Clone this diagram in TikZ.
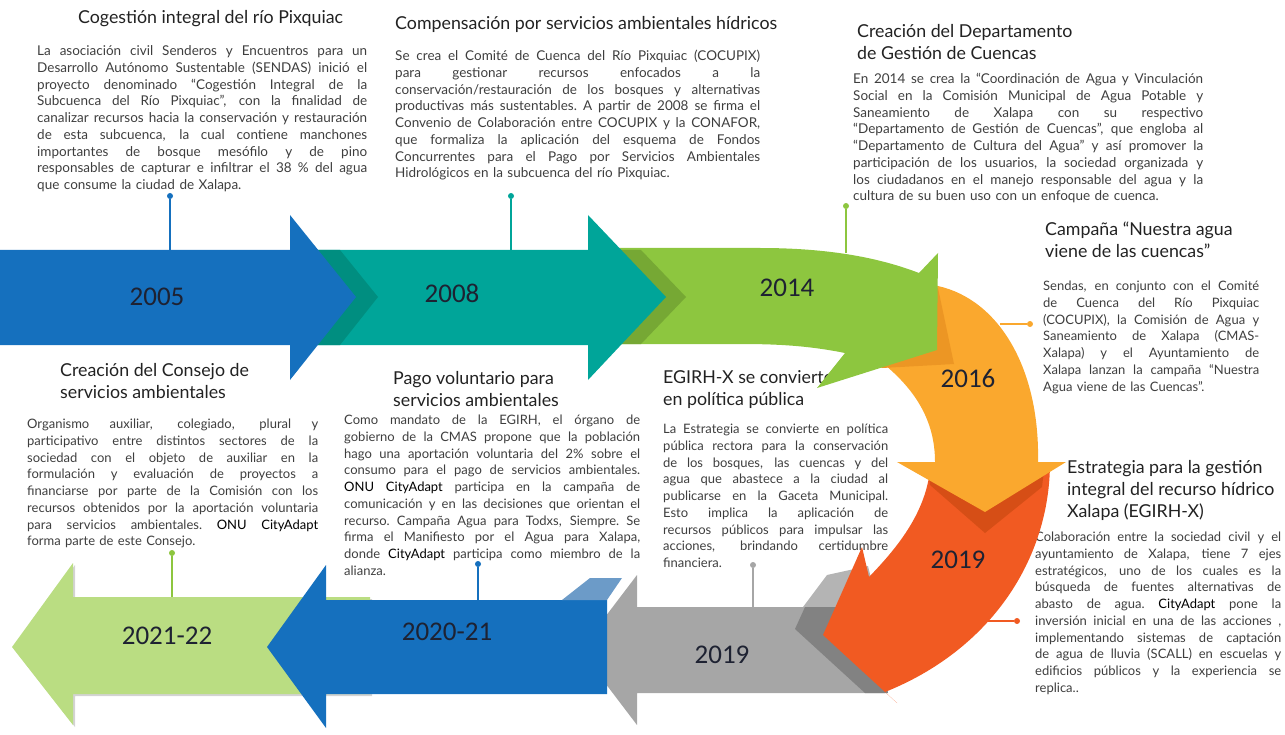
\documentclass[tikz,border=0pt]{standalone}
\usepackage{fontspec}
\setmainfont{Lato}
\newfontfamily\yearfont{Carlito}
\usetikzlibrary{shadows}
\definecolor{cblue}{RGB}{21,112,190}
\definecolor{cteal}{RGB}{0,165,153}
\definecolor{cdteal}{RGB}{0,142,128}
\definecolor{cgreen}{RGB}{141,198,63}
\definecolor{cdgreen}{RGB}{118,168,52}
\definecolor{corange}{RGB}{250,168,46}
\definecolor{cdorange}{RGB}{236,150,36}
\definecolor{cred}{RGB}{241,90,34}
\definecolor{cdred}{RGB}{214,78,22}
\definecolor{cgray}{RGB}{166,166,166}
\definecolor{cdgray}{RGB}{130,130,130}
\definecolor{clgray}{RGB}{180,180,180}
\definecolor{clblue}{RGB}{108,155,200}
\definecolor{clgreen}{RGB}{186,221,130}
\definecolor{cpgreen}{RGB}{141,198,63}
\definecolor{ctitle}{RGB}{34,34,34}
\definecolor{cbody}{RGB}{62,62,62}
\definecolor{cyear}{RGB}{30,34,50}
\def\BW{300pt}
\newcommand{\jl}[1]{\hbox to\BW{\spaceskip=\fontdimen2\font plus 1fil minus 0.05em\relax
  \xspaceskip=\spaceskip\strut#1}}
\newcommand{\lastl}[1]{\hbox{\strut#1}}
\newcommand{\hl}[1]{\textcolor{black}{#1}}
\begin{document}
\begin{tikzpicture}[x=1pt,y=-1pt,
  ttl/.style={anchor=north west,inner sep=0pt,align=left,text=ctitle,font=\fontsize{17.8}{22}\selectfont},
  bdy/.style={anchor=north west,inner sep=0pt,text=cbody,font=\fontsize{13}{16.7}\selectfont},
  bdyl/.style={bdy,font=\fontsize{13.5}{16.7}\selectfont},
  yr/.style={inner sep=0pt,text=cyear,font=\yearfont\fontsize{27}{27}\selectfont},
  pindot/.style={circle,fill=#1,inner sep=0pt,minimum size=6pt},
  pinline/.style={draw=#1,line width=1.4pt}]
\useasboundingbox (0,0) rectangle (1285,735);

% ---------- texts ----------
\node[ttl] (t1) at (78,8) {\strut Cogestión integral del río Pixquiac};
\node[bdyl,text width=330pt] (b1) at (37,44) {\def\BW{330pt}%
\jl{La asociación civil Senderos y Encuentros para un}
\jl{Desarrollo Autónomo Sustentable (SENDAS) inició el}
\jl{proyecto denominado “Cogestión Integral de la}
\jl{Subcuenca del Río Pixquiac”, con la finalidad de}
\jl{canalizar recursos hacia la conservación y restauración}
\jl{de esta subcuenca, la cual contiene manchones}
\jl{importantes de bosque mesófilo y de pino}
\jl{responsables de capturar e infiltrar el 38 \% del agua}
\lastl{que consume la ciudad de Xalapa.}};

\node[ttl] (t2) at (395,14) {\strut Compensación por servicios ambientales hídricos};
\node[bdyl,text width=365pt] (b2) at (395,49) {\def\BW{365pt}%
\jl{Se crea el Comité de Cuenca del Río Pixquiac (COCUPIX)}
\jl{para gestionar recursos enfocados a la}
\jl{conservación/restauración de los bosques y alternativas}
\jl{productivas más sustentables. A partir de 2008 se firma el}
\jl{Convenio de Colaboración entre COCUPIX y la CONAFOR,}
\jl{que formaliza la aplicación del esquema de Fondos}
\jl{Concurrentes para el Pago por Servicios Ambientales}
\lastl{Hidrológicos en la subcuenca del río Pixquiac.}};

\node[ttl] (t3) at (857,22) {\strut Creación del Departamento\\de Gestión de Cuencas};
\node[bdyl,text width=350pt] (b3) at (853,72) {\def\BW{350pt}%
\jl{En 2014 se crea la “Coordinación de Agua y Vinculación}
\jl{Social en la Comisión Municipal de Agua Potable y}
\jl{Saneamiento de Xalapa con su respectivo}
\jl{“Departamento de Gestión de Cuencas”, que engloba al}
\jl{“Departamento de Cultura del Agua" y así promover la}
\jl{participación de los usuarios, la sociedad organizada y}
\jl{los ciudadanos en el manejo responsable del agua y la}
\lastl{cultura de su buen uso con un enfoque de cuenca.}};

\node[ttl] (t4) at (1045,220) {\strut Campaña “Nuestra agua\\viene de las cuencas”};
\node[bdy,text width=216pt] (b4) at (1043,279) {\def\BW{216pt}%
\jl{Sendas, en conjunto con el Comité}
\jl{de Cuenca del Río Pixquiac}
\jl{(COCUPIX), la Comisión de Agua y}
\jl{Saneamiento de Xalapa (CMAS-}
\jl{Xalapa) y el Ayuntamiento de}
\jl{Xalapa lanzan la campaña “Nuestra}
\lastl{Agua viene de las Cuencas”.}};

\node[ttl] (t5) at (1067,458) {\strut Estrategia para la gestión\\integral del recurso hídrico\\Xalapa (EGIRH-X)};
\node[bdy,text width=246pt] (b5) at (1035,530) {\def\BW{246pt}%
\jl{Colaboración entre la sociedad civil y el}
\jl{ayuntamiento de Xalapa, tiene 7 ejes}
\jl{estratégicos, uno de los cuales es la}
\jl{búsqueda de fuentes alternativas de}
\jl{abasto de agua. \hl{CityAdapt} pone la}
\jl{inversión inicial en una de las acciones ,}
\jl{implementando sistemas de captación}
\jl{de agua de lluvia (SCALL) en escuelas y}
\jl{edificios públicos y la experiencia se}
\lastl{replica..}};

\node[ttl] (t6) at (60,361) {\strut Creación del Consejo de\\servicios ambientales};
\node[bdy,text width=291pt] (b6) at (27,417) {\def\BW{291pt}%
\jl{Organismo auxiliar, colegiado, plural y}
\jl{participativo entre distintos sectores de la}
\jl{sociedad con el objeto de auxiliar en la}
\jl{formulación y evaluación de proyectos a}
\jl{financiarse por parte de la Comisión con los}
\jl{recursos obtenidos por la aportación voluntaria}
\jl{para servicios ambientales. \hl{ONU CityAdapt}}
\lastl{forma parte de este Consejo.}};

\node[ttl] (t7) at (393,369) {\strut Pago voluntario para\\servicios ambientales};
\node[bdy,text width=296pt] (b7) at (344,413) {\def\BW{296pt}%
\jl{Como mandato de la EGIRH, el órgano de}
\jl{gobierno de la CMAS propone que la población}
\jl{hago una aportación voluntaria del 2\% sobre el}
\jl{consumo para el pago de servicios ambientales.}
\jl{\hl{ONU CityAdapt} participa en la campaña de}
\jl{comunicación y en las decisiones que orientan el}
\jl{recurso. Campaña Agua para Todxs, Siempre. Se}
\jl{firma el Manifiesto por el Agua para Xalapa,}
\jl{donde \hl{CityAdapt} participa como miembro de la}
\lastl{alianza.}};

\node[ttl] (t8) at (663,368) {\strut EGIRH-X se convierte\\en política pública};
\node[bdy,text width=225pt] (b8) at (663,422) {\def\BW{225pt}%
\jl{La Estrategia se convierte en política}
\jl{pública rectora para la conservación}
\jl{de los bosques, las cuencas y del}
\jl{agua que abastece a la ciudad al}
\jl{publicarse en la Gaceta Municipal.}
\jl{Esto implica la aplicación de}
\jl{recursos públicos para impulsar las}
\jl{acciones, brindando certidumbre}
\lastl{financiera.}};

% ---------- arrows (back to front) ----------
% gray 2019
\fill[cgray] (637,575) -- (580,650) -- (637,725) -- (637,693) -- (885,693) -- (872,607) -- (637,607) -- cycle;
\fill[clgray] (803,607) -- (827,575) -- (868,566) -- (878,607) -- cycle;
\fill[cdgray] (805,607) -- (795,629) -- (865,693) -- (888,693) -- (875,607) -- cycle;
% red 2019
\fill[cred] (1050,462) .. controls (1050,560) and (990,650) .. (885,692) -- (897,703) -- (823,635) -- (862,547) -- (869,577) .. controls (895,550) and (925,515) .. (930,470) -- cycle;
\fill[cdred] (928,462) -- (930,485) -- (985,533) -- (1042,487) -- (1045,462) -- cycle;
% orange 2016
\fill[corange] (938,286) .. controls (1000,300) and (1040,370) .. (1038,462) -- (1066,462) -- (985,512) -- (897,462) -- (935,462) .. controls (935,420) and (915,385) .. (868,352) -- (900,282) -- cycle;
\fill[cdorange] (938,288) -- (954,364) -- (882,368) -- (850,352) -- cycle;
% green 2014
\fill[cgreen] (612,248) -- (760,248) .. controls (830,248) and (880,258) .. (919,273) -- (938,253) -- (937,350) -- (817,388) -- (845,353) .. controls (810,346) and (780,344) .. (740,344) -- (612,344) -- cycle;
\fill[cdgreen] (612,250) -- (641,250) -- (686,297) -- (641,344) -- (612,344) -- cycle;
% teal 2008
\fill[cteal] (300,250) -- (588,250) -- (588,215) -- (666,297) -- (588,380) -- (588,345) -- (300,345) -- cycle;
\fill[cdteal] (300,250) -- (340,250) -- (378,297) -- (340,345) -- (300,345) -- cycle;
% blue 2005
\fill[cblue] (0,250) -- (290,250) -- (290,215) -- (356,297) -- (290,380) -- (290,345) -- (0,345) -- cycle;
% light green 2021-22
\fill[clgreen,drop shadow={opacity=0.35,shadow xshift=2pt,shadow yshift=-2pt}] (370,597) -- (73,597) -- (73,563) -- (12,647) -- (73,725) -- (73,694) -- (370,694) -- cycle;
% blue 2020-21
\fill[cblue] (607,600) -- (326,600) -- (326,565) -- (267,647) -- (326,728) -- (326,694) -- (607,694) -- cycle;
\fill[clblue] (562,600) -- (590,578) -- (622,578) -- (607,600) -- cycle;

% ---------- year labels ----------
\node[yr] (y2005) at (157,297) {2005};
\node[yr] (y2008) at (452,293) {2008};
\node[yr] (y2014) at (787,288) {2014};
\node[yr] (y2016) at (968,378) {2016};
\node[yr] (y2019a) at (958,560) {2019};
\node[yr] (y2019b) at (722,655) {2019};
\node[yr] (y2020) at (447,632) {2020-21};
\node[yr] (y2021) at (167,636) {2021-22};

% ---------- pins ----------
\coordinate (e1) at (170,250);
\coordinate (e2) at (511,250);
\coordinate (e3) at (846,253);
\coordinate (e4) at (1000,324);
\coordinate (e5) at (987,621);
\coordinate (e6) at (753,607);
\coordinate (e7) at (478,600);
\coordinate (e8) at (172,597);
\node[pindot=cblue] (d1) at (170,196) {};
\node[pindot=cteal] (d2) at (511,196) {};
\node[pindot=cgreen] (d3) at (846,206) {};
\node[pindot=corange] (d4) at (1030,324) {};
\node[pindot=cred] (d5) at (1017,621) {};
\node[pindot=cgray] (d6) at (753,565) {};
\node[pindot=cblue] (d7) at (478,564) {};
\node[pindot=cpgreen] (d8) at (172,553) {};
\draw[pinline=cblue] (d1) -- (e1);
\draw[pinline=cteal] (d2) -- (e2);
\draw[pinline=cgreen] (d3) -- (e3);
\draw[pinline=corange] (e4) -- (d4);
\draw[pinline=cred] (e5) -- (d5);
\draw[pinline=cgray] (d6) -- (e6);
\draw[pinline=cblue] (d7) -- (e7);
\draw[pinline=cpgreen] (d8) -- (e8);
\end{tikzpicture}
\end{document}
